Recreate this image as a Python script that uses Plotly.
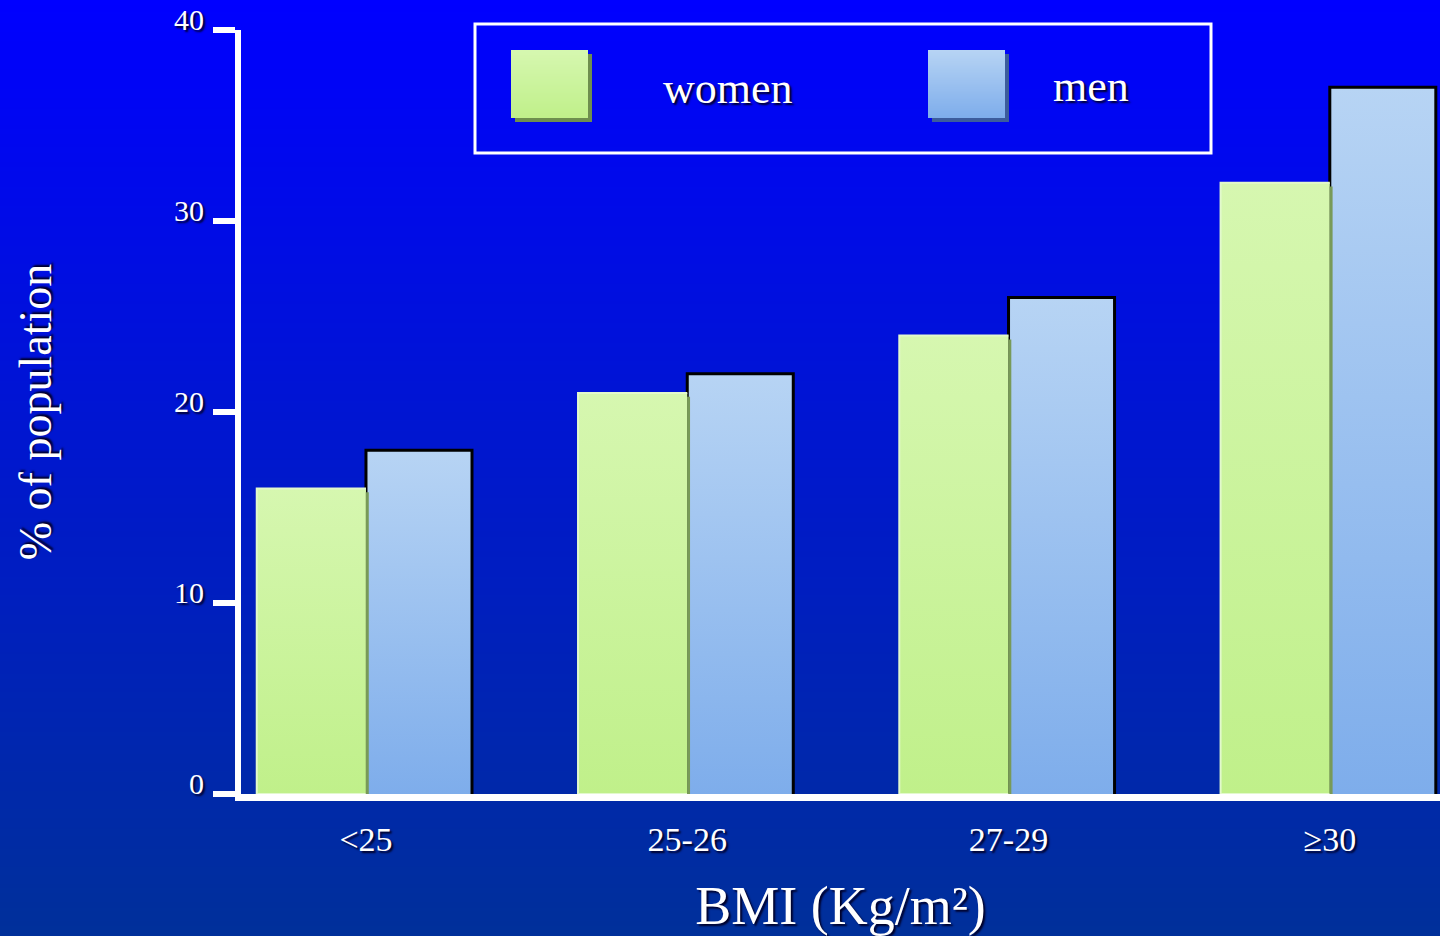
import struct, zlib, base64
import plotly.graph_objects as go

# ---------------- data ----------------
categories = ["<25", "25-26", "27-29", "≥30"]
women = [16, 21, 24, 32]
men = [18, 22, 26, 37]
y_tick_values = [0, 10, 20, 30, 40]
series_names = ["women", "men"]

W, H = 1440, 936
FONT = "Liberation Serif"
SHADOW = "2px 2px 2px #000028"

WOMEN_TOP, WOMEN_BOT = "#D6F7B0", "#C0F08A"
MEN_TOP, MEN_BOT = "#B7D4F4", "#7EADEB"


def hex2rgb(h):
    h = h.lstrip("#")
    return [int(h[i:i + 2], 16) for i in (0, 2, 4)]


def grad_png(top, bottom, h=256, w=2):
    top, bottom = hex2rgb(top), hex2rgb(bottom)
    raw = b""
    for r in range(h):
        t = r / (h - 1)
        c = bytes(round(top[k] + (bottom[k] - top[k]) * t) for k in range(3))
        raw += b"\x00" + c * w

    def chunk(tag, data):
        return (struct.pack(">I", len(data)) + tag + data +
                struct.pack(">I", zlib.crc32(tag + data) & 0xffffffff))

    png = (b"\x89PNG\r\n\x1a\n" +
           chunk(b"IHDR", struct.pack(">IIBBBBB", w, h, 8, 2, 0, 0, 0)) +
           chunk(b"IDAT", zlib.compress(raw)) + chunk(b"IEND", b""))
    return "data:image/png;base64," + base64.b64encode(png).decode()


def px(x):
    return x / W


def py(y):
    return 1 - y / H


fig = go.Figure()

WW = 0.34   # women bar width (category units)
MW = 0.33   # men bar width

# men bars (drawn first, women overlap their left edge)
for i, v in enumerate(men):
    fig.add_trace(go.Scatter(
        x=[i, i, i + MW, i + MW], y=[0, v, v, 0],
        mode="lines", fill="toself",
        fillgradient=dict(type="vertical", colorscale=[[0, MEN_BOT], [1, MEN_TOP]]),
        line=dict(color="black", width=3),
        name=series_names[1], showlegend=False, hoverinfo="skip"))

for i, v in enumerate(women):
    fig.add_trace(go.Scatter(
        x=[i, i - WW, i - WW, i], y=[v, v, 0, 0],
        mode="lines", fill="toself",
        fillgradient=dict(type="vertical", colorscale=[[0, WOMEN_BOT], [1, WOMEN_TOP]]),
        line=dict(color="#E2F9CC", width=2),
        name=series_names[0], showlegend=False, hoverinfo="skip"))
    # darker right edge (3D shadow)
    fig.add_trace(go.Scatter(
        x=[i + 0.004, i + 0.004], y=[v - 0.2, 0],
        mode="lines", line=dict(color="#789A58", width=3),
        showlegend=False, hoverinfo="skip"))

tickfont = dict(family=FONT, color="white", shadow=SHADOW)

fig.update_layout(
    width=W, height=H,
    margin=dict(l=0, r=0, t=0, b=0),
    paper_bgcolor="#0018C8",
    plot_bgcolor="rgba(0,0,0,0)",
    showlegend=False,
    xaxis=dict(
        domain=[241 / W, 1], range=[-0.389, 3.343],
        tickvals=list(range(len(categories))), ticktext=categories,
        showline=True, linecolor="white", linewidth=7,
        ticks="", showgrid=False, zeroline=False,
        tickfont=dict(size=34, **tickfont), ticklabelstandoff=9,
        title=dict(text="BMI (Kg/m²)", font=dict(size=54, **tickfont), standoff=33),
        automargin=False,
    ),
    yaxis=dict(
        domain=[1 - 794 / H, 1 - 30 / H], range=[0, 40],
        tickvals=y_tick_values,
        showline=True, linecolor="white", linewidth=6,
        ticks="outside", ticklen=22, tickwidth=6, tickcolor="white",
        showgrid=False, zeroline=False,
        tickfont=dict(size=30, **tickfont), ticklabelshift=-11, ticklabelstandoff=3,
        title=dict(text="% of population", font=dict(size=46, **tickfont), standoff=110),
        automargin=False,
    ),
)

images = [dict(source=grad_png("#0000FF", "#00309A", 512), xref="paper", yref="paper",
               x=0, y=1, sizex=1, sizey=1, sizing="stretch",
               xanchor="left", yanchor="top", layer="below")]

shapes = [dict(type="rect", xref="paper", yref="paper",
               x0=px(475), x1=px(1211), y0=py(153), y1=py(24),
               line=dict(color="white", width=3), fillcolor="rgba(0,0,0,0)", layer="below")]

legend_items = [
    (series_names[0], 511, WOMEN_TOP, WOMEN_BOT, "#6E8E4E", 728, 88),
    (series_names[1], 928, MEN_TOP, MEN_BOT, "#3C5C9C", 1091, 86),
]
annotations = []
for name, sx, top, bot, shade, tx, ty in legend_items:
    shapes.append(dict(type="rect", xref="paper", yref="paper",
                       x0=px(sx + 4), x1=px(sx + 81), y0=py(122), y1=py(54),
                       line=dict(width=0), fillcolor=shade, layer="below"))
    images.append(dict(source=grad_png(top, bot, 128), xref="paper", yref="paper",
                       x=px(sx), y=py(50), sizex=77 / W, sizey=68 / H, sizing="stretch",
                       xanchor="left", yanchor="top", layer="above"))
    annotations.append(dict(text=name, xref="paper", yref="paper", x=px(tx), y=py(ty),
                            xanchor="center", yanchor="middle", showarrow=False,
                            font=dict(size=44, **tickfont)))

fig.update_layout(images=images, shapes=shapes, annotations=annotations)

fig.write_html("out.html",
               config={"displayModeBar": False},
               post_script="document.body.style.margin='0';document.body.style.overflow='hidden';")
